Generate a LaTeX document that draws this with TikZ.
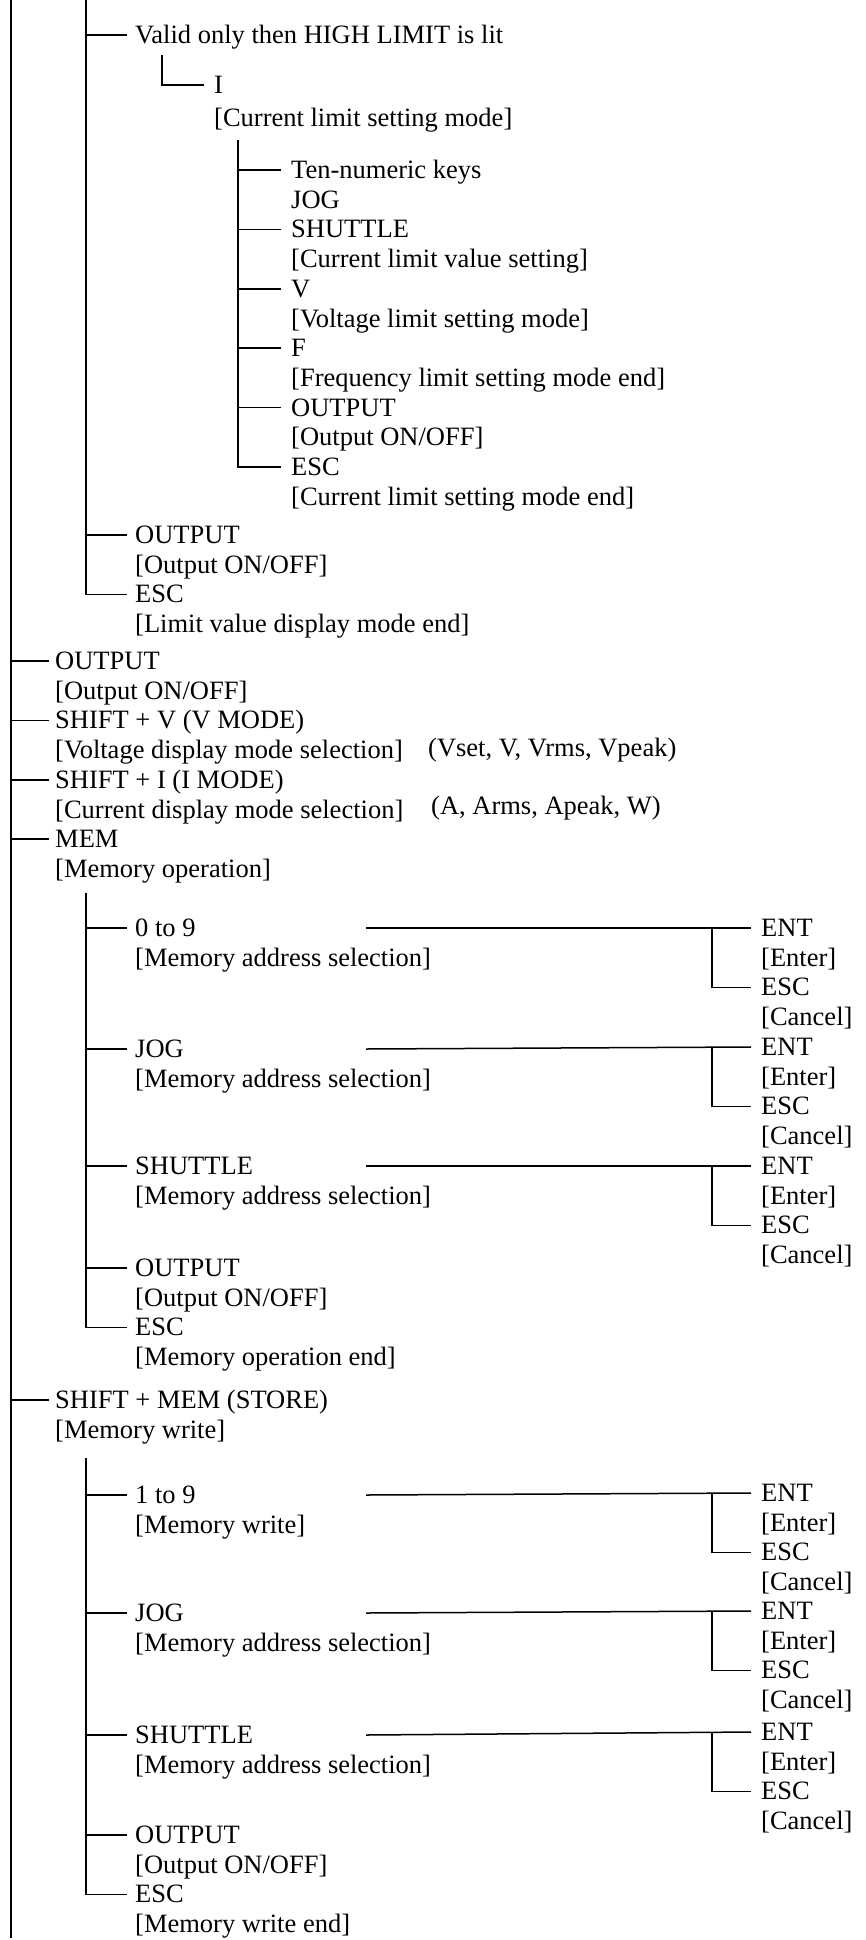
\documentclass[tikz,border=0pt]{standalone}
\usepackage{fontspec}
\setmainfont{Liberation Serif}
\usetikzlibrary{positioning}

\begin{document}
\begin{tikzpicture}[
    x=1pt, y=1pt,
    lbl/.style={anchor=west, inner sep=0pt, text height=17pt, text depth=0pt, font=\fontsize{26.5}{29}\selectfont},
    sub/.style={lbl, below right=12.3pt and 0pt of #1.south west},
    wire/.style={line width=1.5pt},
]
\useasboundingbox (0,0) rectangle (865,-1940);
% trunks and fork columns
\coordinate (t0) at (11,0);
\coordinate (b0) at (11,-1938);
\coordinate (t1) at (86,0);
\coordinate (elb) at (162,-55);
\coordinate (t3) at (238,-140);
\coordinate (tmem) at (86,-893);
\coordinate (tsto) at (86,-1458);
\coordinate (lx) at (366,0);
\coordinate (rx) at (712,0);

% limit value display branch
\node[lbl] (hilim) at (135,-35) {Valid only then HIGH LIMIT is lit};
\node[lbl] (ikey) at (214,-85) {I};
\node[sub=ikey, yshift=-3pt] (imode) {[Current limit setting mode]};
\node[lbl] (tenkey) at (291,-170) {Ten-numeric keys};
\node[sub=tenkey] (jog0) {JOG};
\node[sub=jog0] (shut0) {SHUTTLE};
\node[sub=shut0] (shut0d) {[Current limit value setting]};
\node[sub=shut0d] (vkey) {V};
\node[sub=vkey] (vkeyd) {[Voltage limit setting mode]};
\node[sub=vkeyd] (fkey) {F};
\node[sub=fkey] (fkeyd) {[Frequency limit setting mode end]};
\node[sub=fkeyd] (out3) {OUTPUT};
\node[sub=out3] (out3d) {[Output ON/OFF]};
\node[sub=out3d] (esc3) {ESC};
\node[sub=esc3] (esc3d) {[Current limit setting mode end]};
\node[lbl] (out2) at (135,-535) {OUTPUT};
\node[sub=out2] (out2d) {[Output ON/OFF]};
\node[sub=out2d] (esc2) {ESC};
\node[sub=esc2] (esc2d) {[Limit value display mode end]};

% top level keys
\node[lbl] (out1) at (55,-661) {OUTPUT};
\node[sub=out1] (out1d) {[Output ON/OFF]};
\node[sub=out1d] (shv) {SHIFT + V (V MODE)};
\node[sub=shv] (shvd) {[Voltage display mode selection]};
\node[lbl] (vlist) at (428,-748) {(Vset, V, Vrms, Vpeak)};
\node[sub=shvd] (shi) {SHIFT + I (I MODE)};
\node[sub=shi] (shid) {[Current display mode selection]};
\node[lbl] (ilist) at (431,-806) {(A, Arms, Apeak, W)};
\node[sub=shid] (mem) {MEM};
\node[sub=mem] (memd) {[Memory operation]};

% memory operation
\node[lbl] (m09) at (135,-928) {0 to 9};
\node[sub=m09] (m09d) {[Memory address selection]};
\node[lbl] (mjog) at (135,-1049) {JOG};
\node[sub=mjog] (mjogd) {[Memory address selection]};
\node[lbl] (mshut) at (135,-1166) {SHUTTLE};
\node[sub=mshut] (mshutd) {[Memory address selection]};
\node[lbl] (mout) at (135,-1268) {OUTPUT};
\node[sub=mout] (moutd) {[Output ON/OFF]};
\node[sub=moutd] (mesc) {ESC};
\node[sub=mesc] (mescd) {[Memory operation end]};

% memory write
\node[lbl] (sto) at (55,-1400) {SHIFT + MEM (STORE)};
\node[sub=sto] (stod) {[Memory write]};
\node[lbl] (s19) at (135,-1495) {1 to 9};
\node[sub=s19] (s19d) {[Memory write]};
\node[lbl] (sjog) at (135,-1613) {JOG};
\node[sub=sjog] (sjogd) {[Memory address selection]};
\node[lbl] (sshut) at (135,-1735) {SHUTTLE};
\node[sub=sshut] (sshutd) {[Memory address selection]};
\node[lbl] (sout) at (135,-1835) {OUTPUT};
\node[sub=sout] (soutd) {[Output ON/OFF]};
\node[sub=soutd] (sesc) {ESC};
\node[sub=sesc] (sescd) {[Memory write end]};

% enter / cancel columns
\node[lbl] (enta) at (761,-928) {ENT};
\node[sub=enta] (entad) {[Enter]};
\node[sub=entad] (esca) {ESC};
\node[sub=esca] (escad) {[Cancel]};
\node[lbl] (entb) at (761,-1047) {ENT};
\node[sub=entb] (entbd) {[Enter]};
\node[sub=entbd] (escb) {ESC};
\node[sub=escb] (escbd) {[Cancel]};
\node[lbl] (entc) at (761,-1166) {ENT};
\node[sub=entc] (entcd) {[Enter]};
\node[sub=entcd] (escc) {ESC};
\node[sub=escc] (esccd) {[Cancel]};
\node[lbl] (entd) at (761,-1493) {ENT};
\node[sub=entd] (entdd) {[Enter]};
\node[sub=entdd] (escd) {ESC};
\node[sub=escd] (escdd) {[Cancel]};
\node[lbl] (ente) at (761,-1611) {ENT};
\node[sub=ente] (ented) {[Enter]};
\node[sub=ented] (esce) {ESC};
\node[sub=esce] (esced) {[Cancel]};
\node[lbl] (entf) at (761,-1732) {ENT};
\node[sub=entf] (entfd) {[Enter]};
\node[sub=entfd] (escf) {ESC};
\node[sub=escf] (escfd) {[Cancel]};

% level 0 trunk
\draw[wire] (t0) -- (b0);
\draw[wire] (t0 |- out1) -- ([xshift=-6pt]out1.west);
\draw[wire] (t0 |- shv) -- ([xshift=-6pt]shv.west);
\draw[wire] (t0 |- shi) -- ([xshift=-6pt]shi.west);
\draw[wire] (t0 |- mem) -- ([xshift=-6pt]mem.west);
\draw[wire] (t0 |- sto) -- ([xshift=-6pt]sto.west);
% limit branch
\draw[wire] (t1) |- ([xshift=-8pt]esc2.west);
\draw[wire] (t1 |- hilim) -- ([xshift=-8pt]hilim.west);
\draw[wire] (t1 |- out2) -- ([xshift=-8pt]out2.west);
\draw[wire] (elb) |- ([xshift=-10pt]ikey.west);
\draw[wire] (t3) |- ([xshift=-10pt]esc3.west);
\draw[wire] (t3 |- tenkey) -- ([xshift=-10pt]tenkey.west);
\draw[wire] (t3 |- shut0) -- ([xshift=-10pt]shut0.west);
\draw[wire] (t3 |- vkey) -- ([xshift=-10pt]vkey.west);
\draw[wire] (t3 |- fkey) -- ([xshift=-10pt]fkey.west);
\draw[wire] (t3 |- out3) -- ([xshift=-10pt]out3.west);
% memory operation
\draw[wire] (tmem) |- ([xshift=-8pt]mesc.west);
\draw[wire] (tmem |- m09) -- ([xshift=-8pt]m09.west);
\draw[wire] (tmem |- mjog) -- ([xshift=-8pt]mjog.west);
\draw[wire] (tmem |- mshut) -- ([xshift=-8pt]mshut.west);
\draw[wire] (tmem |- mout) -- ([xshift=-8pt]mout.west);
% memory write
\draw[wire] (tsto) |- ([xshift=-8pt]sesc.west);
\draw[wire] (tsto |- s19) -- ([xshift=-8pt]s19.west);
\draw[wire] (tsto |- sjog) -- ([xshift=-8pt]sjog.west);
\draw[wire] (tsto |- sshut) -- ([xshift=-8pt]sshut.west);
\draw[wire] (tsto |- sout) -- ([xshift=-8pt]sout.west);
% long runs to ENT / ESC
\draw[wire] (lx |- m09) -- ([xshift=-10pt]enta.west);
\draw[wire] (rx |- enta) |- ([xshift=-10pt]esca.west);
\draw[wire] (lx |- mjog) -- ([xshift=-10pt]entb.west);
\draw[wire] (rx |- entb) |- ([xshift=-10pt]escb.west);
\draw[wire] (lx |- mshut) -- ([xshift=-10pt]entc.west);
\draw[wire] (rx |- entc) |- ([xshift=-10pt]escc.west);
\draw[wire] (lx |- s19) -- ([xshift=-10pt]entd.west);
\draw[wire] (rx |- entd) |- ([xshift=-10pt]escd.west);
\draw[wire] (lx |- sjog) -- ([xshift=-10pt]ente.west);
\draw[wire] (rx |- ente) |- ([xshift=-10pt]esce.west);
\draw[wire] (lx |- sshut) -- ([xshift=-10pt]entf.west);
\draw[wire] (rx |- entf) |- ([xshift=-10pt]escf.west);
\end{tikzpicture}
\end{document}
